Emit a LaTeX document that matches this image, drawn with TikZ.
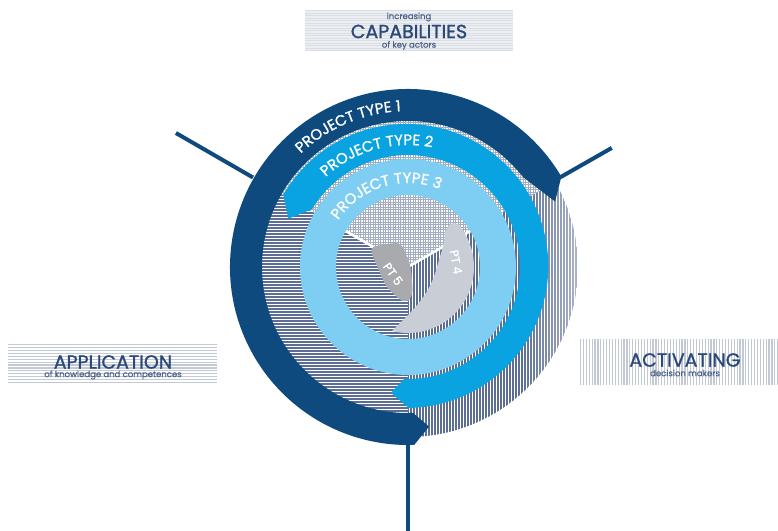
\documentclass[tikz,border=0pt]{standalone}
\usepackage{fontspec}
\setmainfont{Poppins}[FakeBold=1.2]
\newfontfamily\thinfam{Poppins}[FakeBold=0.4]
\usetikzlibrary{decorations.text}

\definecolor{navy}{HTML}{0F4A7E}
\definecolor{midblue}{HTML}{0AA3E1}
\definecolor{lightblue}{HTML}{7ECDF3}
\definecolor{hatch}{HTML}{5C6E93}
\definecolor{gridc}{HTML}{A3ADC1}
\definecolor{ptfour}{HTML}{C9CDD6}
\definecolor{ptfive}{HTML}{A8AAAD}
\definecolor{labtext}{HTML}{2A4878}
\definecolor{subtext}{HTML}{4A6088}
\definecolor{boxline}{HTML}{C3C9D4}
\definecolor{boxfaint}{HTML}{D9DDE4}

\newcommand\ringfont{\fontsize{15}{17}\selectfont}
\newcommand\ptfont{\fontsize{12}{14}\selectfont}

\tikzset{
  spoke/.style={navy, line width=4pt},
  hline/.style={hatch, line width=1.5pt},
  gline/.style={gridc, line width=0.6pt},
  ringtext/.style={decorate, decoration={text along path, text align=center, text color=white}},
  bigword/.style={text=labtext, font=\fontsize{19}{21}\selectfont, inner sep=0pt},
  smallword/.style={text=subtext, font=\thinfam\fontsize{8.5}{10}\selectfont, inner sep=0pt},
}

\begin{document}
\begin{tikzpicture}[x=1pt,y=1pt]
\useasboundingbox (0,0) rectangle (778,530);
\coordinate (ctr) at (408,263);

\begin{scope}[shift={(ctr)}]
  % left sector: horizontal hatching
  \begin{scope}
    \clip (0,0) -- (150:170) arc[start angle=150,end angle=270,radius=170] -- cycle;
    \foreach \k in {-57,...,57} \draw[hline] (-172,3*\k) -- (2,3*\k);
  \end{scope}
  % right sector: vertical hatching, paler towards the rim
  \begin{scope}
    \clip (0,0) -- (270:170) arc[start angle=270,end angle=390,radius=170] -- cycle;
    \foreach \k in {0,...,57} {
      \pgfmathsetmacro\shade{\k<38 ? 100 : 100-2.6*(\k-38)}
      \draw[hline, color=hatch!\shade] (3*\k,-172) -- (3*\k,90);
    }
  \end{scope}
  % top sector: fine grid
  \begin{scope}
    \clip (0,0) -- (30:170) arc[start angle=30,end angle=150,radius=170] -- cycle;
    \foreach \k in {0,...,68} \draw[gline] (-150,2.5*\k) -- (150,2.5*\k);
    \foreach \k in {-60,...,60} \draw[gline] (2.5*\k,0) -- (2.5*\k,172);
  \end{scope}

  % separators in the inner disk
  \draw[white, line width=2.5pt] (150:72) -- (0,0) -- (30:72);

  % PT 4 and PT 5
  \fill[ptfour] (40:66) arc[start angle=40,end angle=-104,radius=66]
     to[out=45,in=-105] (29,0) to[out=75,in=-95] (37,34) to[out=85,in=130] (40:66) -- cycle;
  \fill[ptfive, rounded corners=7pt] (-39,20) -- (-7,25) -- (3,0) -- (5,-29) -- (-3,-37) -- (-22,-20) -- cycle;

  % project type 3: full ring
  \fill[lightblue, even odd rule] (0,0) circle[radius=108] (0,0) circle[radius=72];

  % project type 2
  \fill[midblue] (150:144) arc[start angle=150,end angle=-89,radius=142]
     -- (-97.7:127) -- (-92:112) arc[start angle=-92,end angle=149,radius=112]
     -- (158:129) -- cycle;

  % project type 1
  \fill[navy] (30.5:178) arc[start angle=30.5,end angle=272,radius=178]
     -- (277.5:161) -- (272:146) arc[start angle=272,end angle=38,radius=146] -- (24:161) -- cycle;

  % spoke end points
  \coordinate (sL) at (150:179);
  \coordinate (eL) at (150:268);
  \coordinate (sR) at (30.5:177);
  \coordinate (eR) at (30.3:236);
  \coordinate (sB) at (270:177);
  \coordinate (eB) at (270:265);

  % ring captions
  \path[ringtext, decoration={text={|\ringfont|PROJECT TYPE 1}}]
     (160:156) arc[start angle=160,end angle=66,radius=156];
  \path[ringtext, decoration={text={|\ringfont|PROJECT TYPE 2}}]
     (155:122) arc[start angle=155,end angle=56,radius=122];
  \path[ringtext, decoration={text={|\ringfont|PROJECT TYPE 3}}]
     (165:84) arc[start angle=165,end angle=49,radius=84];

  \node[text=white, font=\ptfont, rotate=-80] (pt4) at (48,5) {PT 4};
  \node[text=white, font=\ptfont, rotate=-55] (pt5) at (-15,-7) {PT 5};
\end{scope}

% spokes
\draw[spoke] (sL) -- (eL);
\draw[spoke] (sR) -- (eR);
\draw[spoke] (sB) -- (eB);

% label: capabilities
\begin{scope}
  \clip (305,479) rectangle (513,520);
  \fill[boxfaint!50] (305,479) rectangle (513,520);
  \foreach \k in {0,...,17} \draw[boxfaint, line width=1pt] (305,479+2.5*\k) -- (513,479+2.5*\k);
\end{scope}
\node[smallword] (capA) at (409,513) {increasing};
\node[bigword] (capB) at (409,498.5) {CAPABILITIES};
\node[smallword] (capC) at (409,484.5) {of key actors};

% label: application
\begin{scope}
  \clip (8,147) rectangle (217,185);
  \foreach \k in {0,...,13} \draw[boxline, line width=1.2pt] (8,147.5+2.9*\k) -- (217,147.5+2.9*\k);
\end{scope}
\node[bigword] (appB) at (113,168) {APPLICATION};
\node[smallword] (appC) at (113,155) {of knowledge and competences};

% label: activating
\begin{scope}
  \clip (580,145) rectangle (778,191);
  \foreach \k in {0,...,68} \draw[boxline, line width=1.2pt] (580.5+2.9*\k,145) -- (580.5+2.9*\k,191);
\end{scope}
\node[bigword] (actB) at (685,170) {ACTIVATING};
\node[smallword] (actC) at (685,157) {decision makers};
\end{tikzpicture}
\end{document}
